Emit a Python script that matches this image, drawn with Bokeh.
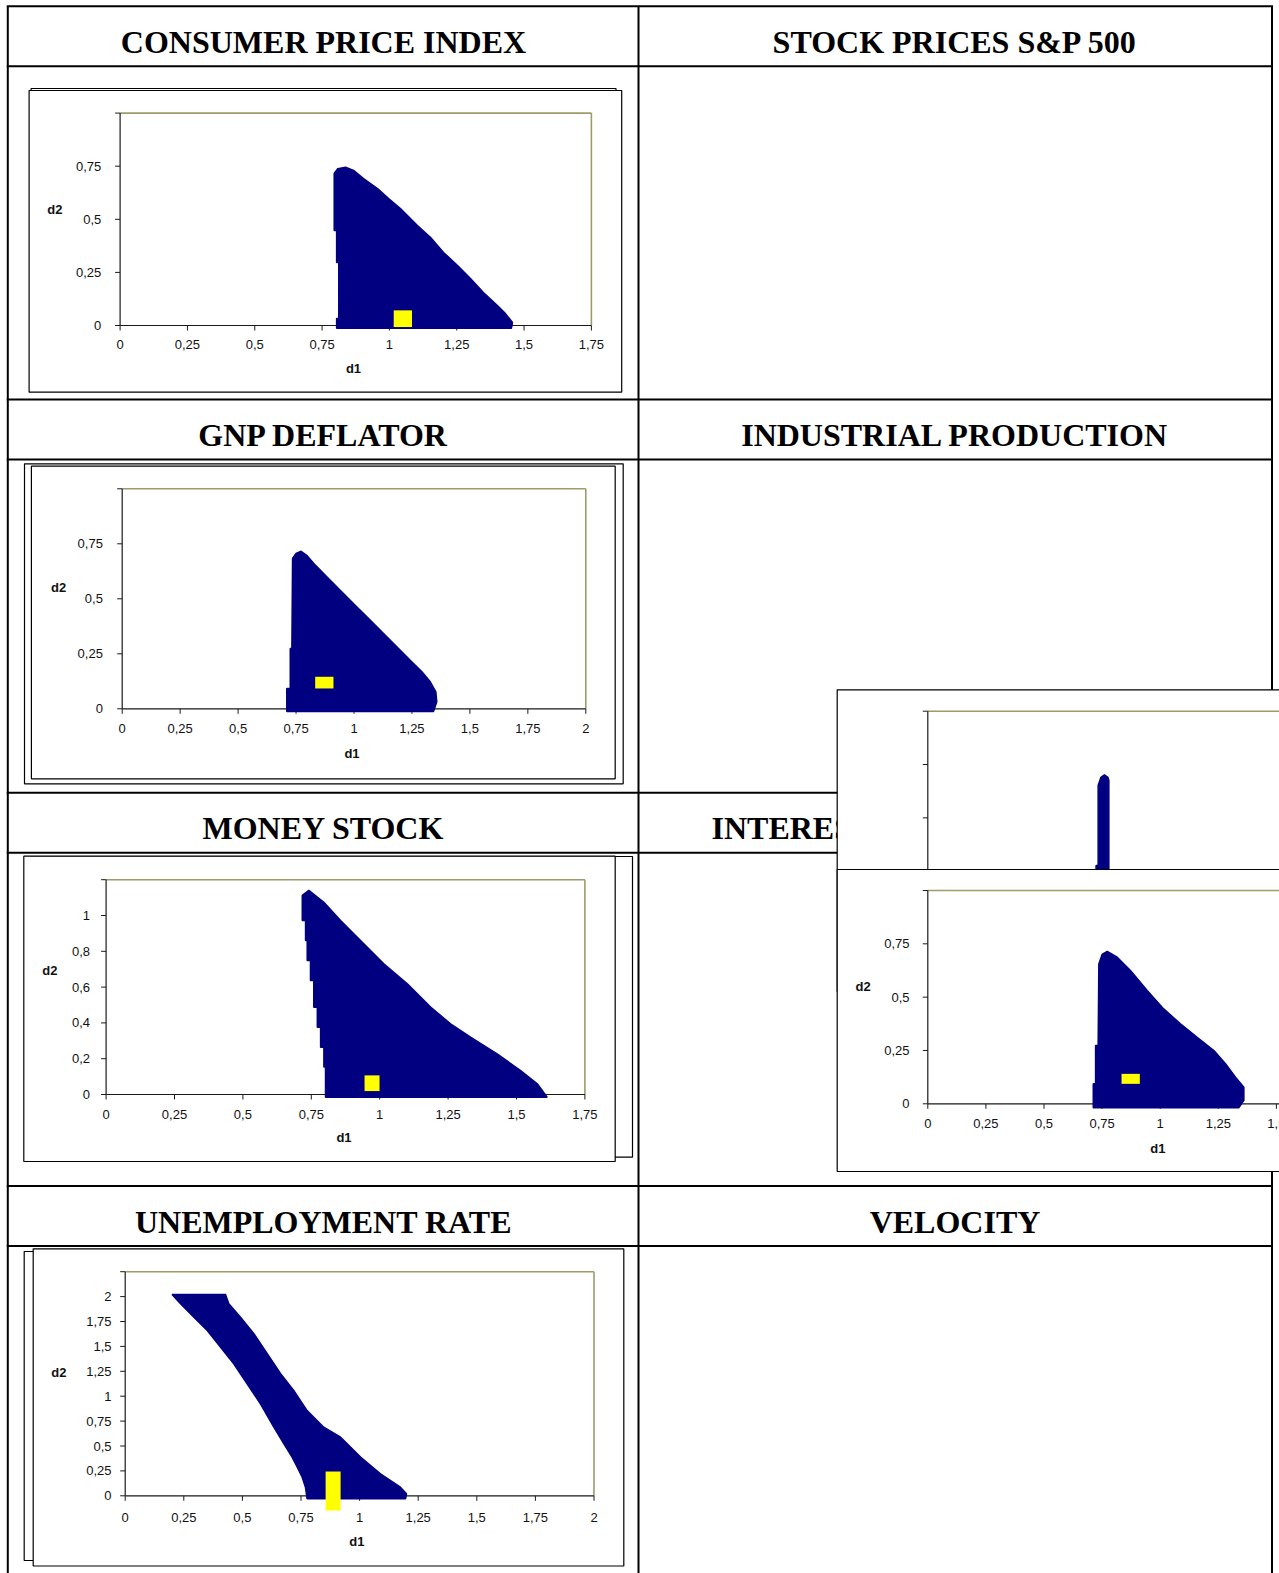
from bokeh.plotting import figure
from bokeh.models import Range1d
from bokeh.core.properties import value
from bokeh.embed import file_html
from bokeh.resources import INLINE

# ---------------- data ----------------
titles_left = ["CONSUMER PRICE INDEX", "GNP DEFLATOR", "MONEY STOCK", "UNEMPLOYMENT RATE"]
titles_right = ["STOCK PRICES S&P 500", "INDUSTRIAL PRODUCTION", "INTEREST RATE", "VELOCITY"]

x_ticks_175 = [0.0, 0.25, 0.5, 0.75, 1.0, 1.25, 1.5, 1.75]
x_labels_175 = ["0", "0,25", "0,5", "0,75", "1", "1,25", "1,5", "1,75"]
x_ticks_2 = [0.0, 0.25, 0.5, 0.75, 1.0, 1.25, 1.5, 1.75, 2.0]
x_labels_2 = ["0", "0,25", "0,5", "0,75", "1", "1,25", "1,5", "1,75", "2"]
x_ticks_150 = [0.0, 0.25, 0.5, 0.75, 1.0, 1.25, 1.5]
x_labels_150 = ["0", "0,25", "0,5", "0,75", "1", "1,25", "1,5"]
y_ticks_1 = [0.0, 0.25, 0.5, 0.75, 1.0]
y_labels_1 = ["0", "0,25", "0,5", "0,75", ""]
y_ticks_12 = [0.0, 0.2, 0.4, 0.6, 0.8, 1.0, 1.2]
y_labels_12 = ["0", "0,2", "0,4", "0,6", "0,8", "1", ""]
y_ticks_225 = [0.0, 0.25, 0.5, 0.75, 1.0, 1.25, 1.5, 1.75, 2.0, 2.25]
y_labels_225 = ["0", "0,25", "0,5", "0,75", "1", "1,25", "1,5", "1,75", "2", ""]

# Consumer price index: region boundary (d1, d2) and estimate point
cpi_d1 = [0.795, 0.808, 0.837, 0.867, 0.904, 0.956, 0.997, 1.041, 1.104, 1.153, 1.201, 1.253,
          1.301, 1.349, 1.401, 1.431, 1.457, 1.453, 0.804, 0.804, 0.812, 0.812, 0.804, 0.804, 0.795]
cpi_d2 = [0.716, 0.738, 0.745, 0.730, 0.692, 0.645, 0.598, 0.551, 0.471, 0.414, 0.344, 0.282,
          0.221, 0.155, 0.094, 0.056, 0.014, -0.013, -0.013, 0.033, 0.033, 0.297, 0.297, 0.447, 0.447]
cpi_pt_d1 = [1.050]
cpi_pt_d2 = [0.032]

# GNP deflator
gnp_d1 = [0.735, 0.750, 0.772, 0.796, 0.833, 0.890, 0.947, 1.005, 1.063, 1.120, 1.192, 1.249,
          1.293, 1.329, 1.353, 1.357, 1.343, 0.710, 0.710, 0.725, 0.725, 0.732]
gnp_d2 = [0.683, 0.706, 0.716, 0.698, 0.653, 0.592, 0.532, 0.471, 0.410, 0.350, 0.274, 0.214,
          0.168, 0.123, 0.077, 0.032, -0.012, -0.012, 0.092, 0.092, 0.274, 0.274]
gnp_pt_d1 = [0.872]
gnp_pt_d2 = [0.119]

# Money stock
money_d1 = [0.717, 0.741, 0.796, 0.857, 0.930, 1.015, 1.101, 1.186, 1.259, 1.332, 1.429, 1.515,
            1.576, 1.612, 0.802, 0.802, 0.796, 0.796, 0.784, 0.784, 0.772, 0.772, 0.759, 0.759,
            0.747, 0.747, 0.735, 0.735, 0.729, 0.729, 0.717]
money_d2 = [1.112, 1.140, 1.074, 0.972, 0.860, 0.730, 0.618, 0.488, 0.395, 0.320, 0.227, 0.134,
            0.060, -0.015, -0.015, 0.153, 0.153, 0.264, 0.264, 0.376, 0.376, 0.488, 0.488, 0.637,
            0.637, 0.749, 0.749, 0.860, 0.860, 0.972, 0.972]
money_pt_d1 = [0.972]
money_pt_d2 = [0.063]

# Unemployment rate
unemp_d1 = [0.200, 0.428, 0.442, 0.492, 0.549, 0.606, 0.663, 0.719, 0.776, 0.847, 0.919, 1.004,
            1.089, 1.174, 1.200, 1.196, 0.776, 0.769, 0.755, 0.734, 0.712, 0.677, 0.634, 0.577,
            0.520, 0.463, 0.407, 0.350, 0.293, 0.236]
unemp_d2 = [2.020, 2.020, 1.928, 1.793, 1.627, 1.426, 1.225, 1.057, 0.856, 0.689, 0.588, 0.388,
            0.221, 0.086, 0.020, -0.030, -0.030, 0.086, 0.187, 0.287, 0.388, 0.522, 0.689, 0.924,
            1.124, 1.325, 1.492, 1.660, 1.793, 1.928]
unemp_pt_d1 = [0.887]
unemp_pt_d2 = [0.048]

# Chart lying behind (upper, mostly covered)
upper_d1 = [0.733, 0.745, 0.760, 0.775, 0.779, 0.779, 0.724, 0.724, 0.733]
upper_d2 = [0.652, 0.690, 0.702, 0.690, 0.675, 0.000, 0.000, 0.277, 0.277]

# Interest rate
int_d1 = [0.736, 0.750, 0.772, 0.815, 0.872, 0.944, 1.015, 1.087, 1.159, 1.231, 1.281, 1.324,
          1.360, 1.360, 1.338, 0.712, 0.712, 0.722, 0.722, 0.733]
int_d2 = [0.656, 0.700, 0.715, 0.687, 0.625, 0.531, 0.445, 0.375, 0.312, 0.250, 0.188, 0.125,
          0.078, 0.016, -0.019, -0.019, 0.094, 0.094, 0.273, 0.273]
int_pt_d1 = [0.873]
int_pt_d2 = [0.117]

# ---------------- layout / style ----------------
W, H = 1279, 1573
PX0, PY0 = 0, 0
NAVY = "#000080"
YELLOW = "#ffff00"
OLIVE = "#9c9c6a"
AXIS = "#1a1a1a"
SANS = value("Liberation Sans")
SERIF = value("Liberation Serif")

charts = [
    dict(name="cpi", d1=cpi_d1, d2=cpi_d2, pd1=cpi_pt_d1, pd2=cpi_pt_d2, psize=(18.3, 16.7),
         xt=x_ticks_175, xl=x_labels_175, yt=y_ticks_1, yl=y_labels_1,
         x0=119.6, sx=269.3, y0=325.0, sy=212.4, xmax=1.75, ymax=1.0,
         ylab=18.8, xlab=19.3, d1pos=(353, 368.3), d2pos=(54.3, 209),
         boxes=[(30.6, 615.5, 88.0, 389.0), (28.6, 621.2, 90.0, 391.7)], labels=True),
    dict(name="gnp", d1=gnp_d1, d2=gnp_d2, pd1=gnp_pt_d1, pd2=gnp_pt_d2, psize=(18.3, 11.7),
         xt=x_ticks_2, xl=x_labels_2, yt=y_ticks_1, yl=y_labels_1,
         x0=121.7, sx=231.8, y0=708.3, sy=220.0, xmax=2.0, ymax=1.0,
         ylab=19.3, xlab=20.0, d1pos=(351.5, 753.3), d2pos=(58.2, 586.7),
         boxes=[(24.0, 622.7, 463.3, 783.3), (30.9, 614.7, 465.7, 778.3)], labels=True),
    dict(name="money", d1=money_d1, d2=money_d2, pd1=money_pt_d1, pd2=money_pt_d2, psize=(15.0, 15.7),
         xt=x_ticks_175, xl=x_labels_175, yt=y_ticks_12, yl=y_labels_12,
         x0=105.6, sx=273.6, y0=1094.0, sy=179.0, xmax=1.75, ymax=1.2,
         ylab=16.0, xlab=20.0, d1pos=(343.5, 1136.7), d2pos=(49.4, 970),
         boxes=[(30.0, 632.0, 856.0, 1156.7), (23.3, 614.7, 855.7, 1161.0)], labels=True),
    dict(name="unemp", d1=unemp_d1, d2=unemp_d2, pd1=unemp_pt_d1, pd2=unemp_pt_d2, psize=(15.0, 39.0),
         xt=x_ticks_2, xl=x_labels_2, yt=y_ticks_225, yl=y_labels_225,
         x0=124.7, sx=234.4, y0=1495.3, sy=99.6, xmax=2.0, ymax=2.25,
         ylab=13.7, xlab=21.7, d1pos=(356.3, 1541), d2pos=(58.4, 1371.7),
         boxes=[(23.7, 615.0, 1251.0, 1560.0), (32.7, 623.3, 1248.3, 1565.5)], labels=True),
    dict(name="upper", d1=upper_d1, d2=upper_d2, pd1=[], pd2=[], psize=(0, 0),
         xt=x_ticks_150, xl=x_labels_150, yt=y_ticks_1, yl=y_labels_1,
         x0=927.3, sx=232.4, y0=924.0, sy=213.3, xmax=2.0, ymax=1.0,
         ylab=18.3, xlab=20.0, d1pos=None, d2pos=None,
         boxes=[(836.7, 1300.0, 689.3, 991.0)], labels=False),
    dict(name="interest", d1=int_d1, d2=int_d2, pd1=int_pt_d1, pd2=int_pt_d2, psize=(18.3, 10.0),
         xt=x_ticks_150, xl=x_labels_150, yt=y_ticks_1, yl=y_labels_1,
         x0=927.3, sx=232.4, y0=1103.3, sy=213.3, xmax=2.0, ymax=1.0,
         ylab=18.3, xlab=20.0, d1pos=(1157.3, 1147.7), d2pos=(862.7, 986),
         boxes=[(836.7, 1300.0, 869.0, 1171.0)], labels=True),
]

p = figure(width=W, height=H, x_range=Range1d(PX0, PX0 + W), y_range=Range1d(PY0 + H, PY0),
           x_axis_type=None, y_axis_type=None, output_backend="svg", toolbar_location=None,
           min_border=0, title=None)
p.outline_line_color = None
p.background_fill_color = "white"
p.border_fill_color = "white"

xr, yr = {}, {}
for c in charts:
    xs = (PX0 - c["x0"]) / c["sx"]
    xr[c["name"]] = Range1d(xs, xs + W / c["sx"])
    ys = (c["y0"] - PY0 - H) / c["sy"]
    yr[c["name"]] = Range1d(ys, ys + H / c["sy"])
p.extra_x_ranges = xr
p.extra_y_ranges = yr

# ---------------- table ----------------
ROW_H = 393.3
HEAD_H = 60.0
row_tops = [5.7 + ROW_H * k for k in range(4)]
LEFT_X, MID_X, RIGHT_X = 7.3, 638.0, 1271.5
hy = []
for t in row_tops:
    hy += [t, t + HEAD_H]
p.segment(x0=[LEFT_X - 1] * len(hy), y0=hy, x1=[RIGHT_X + 1] * len(hy), y1=hy, line_color="black", line_width=2)
p.segment(x0=[LEFT_X, MID_X, RIGHT_X], y0=[row_tops[0]] * 3, x1=[LEFT_X, MID_X, RIGHT_X], y1=[H] * 3,
          line_color="black", line_width=2)

TITLE_BASE = 35.5
title_kw = dict(text_font=SERIF, text_font_size="32px", text_font_style="bold", text_color="black",
                text_baseline="alphabetic")
p.text(x=[323.0] * 4, y=[t + TITLE_BASE for t in row_tops], text=titles_left, text_align="center", **title_kw)
right_x = [954.5, 954.5, 711.0, 954.5]
right_align = ["center", "center", "left", "center"]
for i in range(4):
    p.text(x=[right_x[i]], y=[row_tops[i] + TITLE_BASE], text=[titles_right[i]],
           text_align=right_align[i], **title_kw)

# ---------------- charts ----------------
TICK = 5
for c in charts:
    n = c["name"]
    kw = dict(x_range_name=n, y_range_name=n)
    for (l, r, t, b) in c["boxes"]:
        p.quad(left=l, right=r, top=t, bottom=b, fill_color="white", line_color="black", line_width=1.2)
    xm, ym = c["xmax"], c["ymax"]
    p.segment(x0=[0, xm], y0=[ym, 0], x1=[xm, xm], y1=[ym, ym], line_color=OLIVE, line_width=1.6, **kw)
    p.segment(x0=[0, 0], y0=[0, 0], x1=[0, xm], y1=[ym, 0], line_color=AXIS, line_width=1.2, **kw)
    yt, xt = c["yt"], c["xt"]
    p.segment(x0=[0] * len(yt), y0=yt, x1=[-TICK / c["sx"]] * len(yt), y1=yt,
              line_color=AXIS, line_width=1, **kw)
    p.segment(x0=xt, y0=[0] * len(xt), x1=xt, y1=[-TICK / c["sy"]] * len(xt),
              line_color=AXIS, line_width=1, **kw)
    p.patch(c["d1"], c["d2"], fill_color=NAVY, line_color=NAVY, line_width=1.5, **kw)
    if c["pd1"]:
        p.rect(x=c["pd1"], y=c["pd2"], width=c["psize"][0], height=c["psize"][1],
               width_units="screen", height_units="screen", fill_color=YELLOW, line_color=None, **kw)
    if c["labels"]:
        lab = dict(text_font=SANS, text_font_size="13px", text_color="#111111", text_baseline="middle")
        p.text(x=xt, y=[0] * len(xt), text=c["xl"], y_offset=c["xlab"], text_align="center", **lab, **kw)
        p.text(x=[0] * len(yt), y=yt, text=c["yl"], x_offset=-c["ylab"], text_align="right", **lab, **kw)
        p.text(x=[c["d1pos"][0]], y=[c["d1pos"][1]], text=["d1"], text_align="center",
               text_font_style="bold", **lab)
        p.text(x=[c["d2pos"][0]], y=[c["d2pos"][1]], text=["d2"], text_align="center",
               text_font_style="bold", **lab)

open("out.html", "w").write(file_html(p, INLINE))
